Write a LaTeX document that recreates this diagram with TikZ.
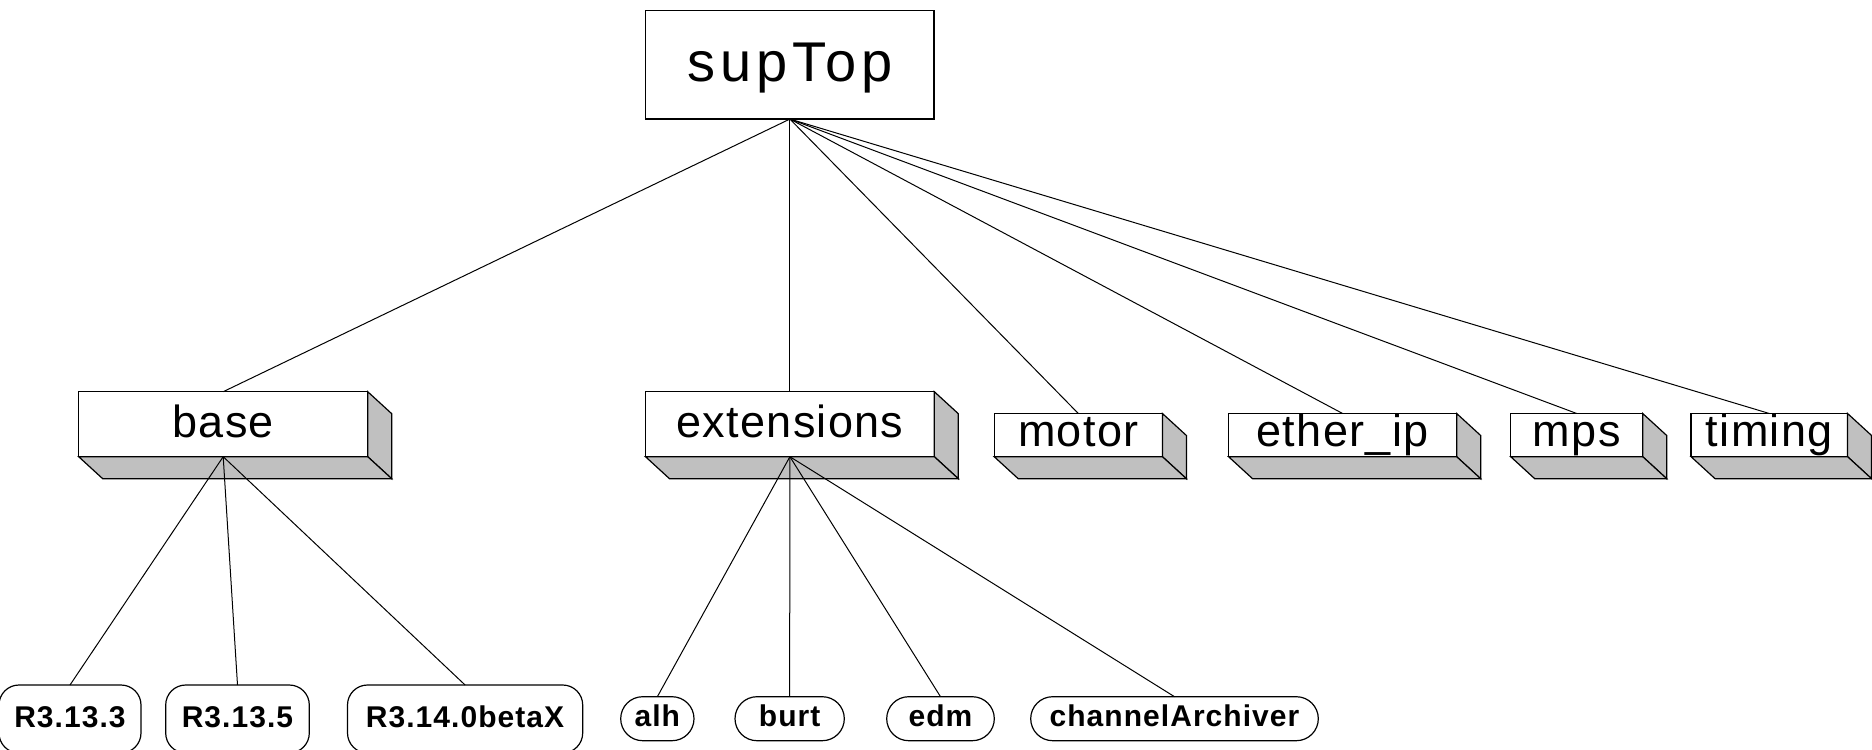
\documentclass[tikz,border=0pt]{standalone}
\usepackage{fontspec}
\usetikzlibrary{backgrounds}
\newfontfamily\boxfont[LetterSpace=3]{Liberation Sans}
\newfontfamily\topfont[LetterSpace=9]{Liberation Sans}
\newfontfamily\leaffont[LetterSpace=3.5]{Liberation Sans}
\definecolor{sidegray}{HTML}{C0C0C0}
\newcommand\depthfaces[1]{%
  \path[side] (#1.north east) -- ([shift={(24,22)}]#1.north east) -- ([shift={(24,22)}]#1.south east) -- (#1.south east) -- cycle;
  \path[side] (#1.south west) -- (#1.south east) -- ([shift={(24,22)}]#1.south east) -- ([shift={(24,22)}]#1.south west) -- cycle;}
\tikzset{
  every node/.style={inner sep=0pt, outer sep=0pt},
  topbox/.style={draw, line width=0.6pt, fill=white, minimum width=144.15pt, minimum height=54.35pt,
    text height=35.7pt, text depth=18.65pt, font=\topfont\fontsize{28}{34}\selectfont},
  tallbox/.style={draw, line width=0.6pt, minimum height=32.5pt,
    text height=22.8pt, text depth=9.7pt, font=\boxfont\fontsize{22.5}{27}\selectfont},
  flatbox/.style={tallbox, minimum height=21.6pt, text height=16.6pt, text depth=5pt},
  release/.style={draw, line width=0.6pt, fill=white, rounded corners=10pt, minimum height=34pt,
    text height=21.15pt, text depth=12.85pt, font=\leaffont\bfseries\fontsize{15}{18}\selectfont},
  tool/.style={release, rounded corners=11pt, minimum height=22pt, text height=15pt, text depth=7pt},
  link/.style={line width=0.5pt},
  side/.style={draw, line width=0.6pt, fill=sidegray, line join=miter}
}
\begin{document}
\begin{tikzpicture}[x=0.5pt, y=-0.5pt]
\useasboundingbox (0,0) rectangle (1872,749);
% top
\node[topbox] (top) at (789.9,64.7) {supTop};
% second level
\node[tallbox, minimum width=144.5pt] (base) at (223.2,424.2) {base};
\node[tallbox, minimum width=144.4pt] (ext) at (789.9,424.2) {extensions};
\node[flatbox, minimum width=84.1pt] (motor) at (1078.3,435.1) {motor};
\node[flatbox, minimum width=114.05pt] (etherip) at (1342.6,435.1) {ether\_ip};
\node[flatbox, minimum width=66pt] (mps) at (1576.7,435.1) {mps};
\node[flatbox, minimum width=78.25pt] (timing) at (1769.3,435.1) {timing};
\begin{pgfonlayer}{background}
\fill[white] (base.north west) rectangle (base.south east);
\fill[white] (ext.north west) rectangle (ext.south east);
\fill[white] (motor.north west) rectangle (motor.south east);
\fill[white] (etherip.north west) rectangle (etherip.south east);
\fill[white] (mps.north west) rectangle (mps.south east);
\fill[white] (timing.north west) rectangle (timing.south east);
\depthfaces{base}
\depthfaces{ext}
\depthfaces{motor}
\depthfaces{etherip}
\depthfaces{mps}
\depthfaces{timing}
\end{pgfonlayer}
% leaves
\node[release, minimum width=71pt] (r1) at (70,719) {R3.13.3};
\node[release, minimum width=71.8pt] (r2) at (237.5,719) {R3.13.5};
\node[release, minimum width=117.6pt] (r3) at (465.1,719) {R3.14.0betaX};
\node[tool, minimum width=36.65pt] (alh) at (657.35,718.7) {alh};
\node[tool, minimum width=54.65pt] (burt) at (789.65,718.7) {burt};
\node[tool, minimum width=53.8pt] (edm) at (940.5,718.7) {edm};
\node[tool, minimum width=143.8pt] (arch) at (1174.5,718.7) {channelArchiver};
% connectors
\foreach \c in {base,ext,motor,etherip,mps,timing}
  \draw[link] (top.south) -- (\c.north);
\foreach \c in {r1,r2,r3}
  \draw[link] (base.south) -- (\c.north);
\foreach \c in {alh,burt,edm,arch}
  \draw[link] (ext.south) -- (\c.north);
\end{tikzpicture}
\end{document}
